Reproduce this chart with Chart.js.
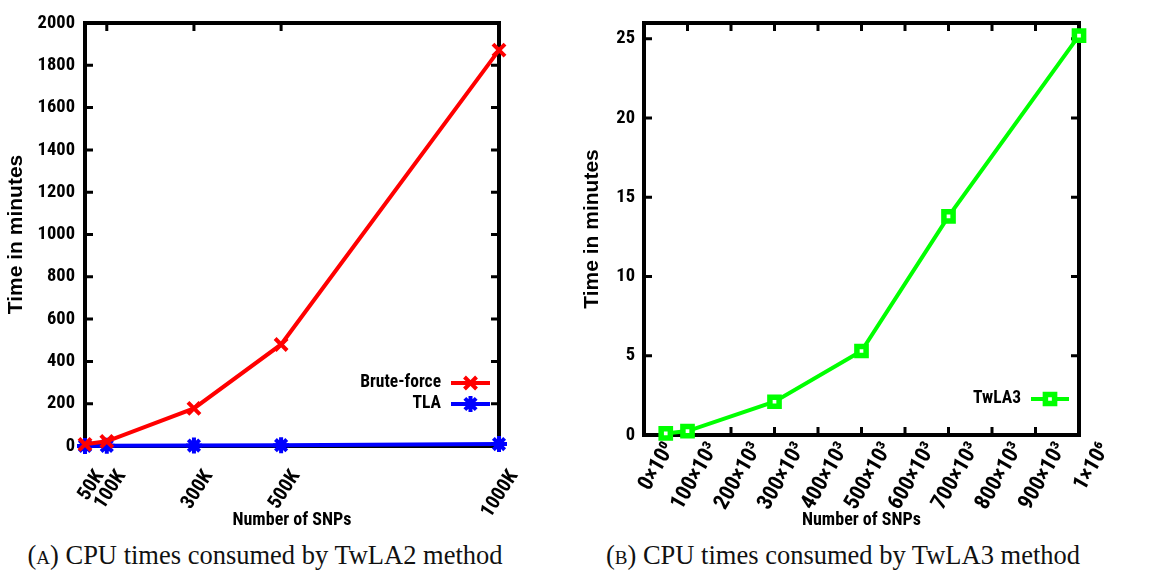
<!DOCTYPE html>
<html><head><meta charset="utf-8">
<script src="https://cdn.jsdelivr.net/npm/chart.js"></script>
<style>
html,body{margin:0;padding:0;background:#fff;width:1156px;height:572px;overflow:hidden;}
#cA{position:absolute;left:0;top:0;}
#cB{position:absolute;left:578px;top:0;}
.cap{position:absolute;top:540px;font-family:'Liberation Serif','DejaVu Serif',serif;font-size:26.5px;line-height:30px;color:#111;white-space:nowrap;transform:translateX(-50%);}
</style></head><body>
<canvas id="cA" width="578" height="535"></canvas>
<canvas id="cB" width="578" height="535"></canvas>
<div class="cap" style="left:265px">(<span style="font-variant:small-caps">a</span>) CPU times consumed by TwLA2 method</div>
<div class="cap" style="left:843px">(<span style="font-variant:small-caps">b</span>) CPU times consumed by TwLA3 method</div>
<script>
// ---- Data: chart (a) ----
const snpsA = [50000, 100000, 300000, 500000, 1000000];
const bruteForce = [8, 22, 178, 480, 1872];
const tla = [0.3, 0.6, 2, 4, 9];
const xTicksA = [50000, 100000, 300000, 500000, 1000000];
const xTickLabelsA = ['50K', '100K', '300K', '500K', '1000K'];
const yTicksA = [0, 200, 400, 600, 800, 1000, 1200, 1400, 1600, 1800, 2000];

// ---- Data: chart (b) ----
const snpsB = [50000, 100000, 300000, 500000, 700000, 1000000];
const twla3 = [0.1, 0.25, 2.1, 5.3, 13.8, 25.2];
const xTicksB = [0, 100000, 200000, 300000, 400000, 500000, 600000, 700000, 800000, 900000, 1000000];
const xTickLabelsB = ['0×10⁰', '100×10³', '200×10³', '300×10³', '400×10³', '500×10³', '600×10³', '700×10³', '800×10³', '900×10³', '1×10⁶'];
const yTicksB = [0, 5, 10, 15, 20, 25];

const NARROW = "'Roboto Condensed', 'DejaVu Sans Condensed', sans-serif";
const WIDE = "'Liberation Sans', Arial, sans-serif";

const framePlugin = {
  id: 'frame',
  beforeDatasetsDraw(chart) {
    const {ctx, chartArea: a, scales} = chart;
    const tl = 8;
    ctx.save();
    ctx.strokeStyle = '#000';
    ctx.lineWidth = 3;
    ctx.beginPath();
    scales.y.ticks.forEach(t => {
      const p = scales.y.getPixelForValue(t.value);
      ctx.moveTo(a.left, p); ctx.lineTo(a.left + tl, p);
      ctx.moveTo(a.right, p); ctx.lineTo(a.right - tl, p);
    });
    scales.x.ticks.forEach(t => {
      const p = scales.x.getPixelForValue(t.value);
      ctx.moveTo(p, a.bottom); ctx.lineTo(p, a.bottom - tl);
      ctx.moveTo(p, a.top); ctx.lineTo(p, a.top + tl);
    });
    ctx.stroke();
    ctx.lineWidth = 4;
    ctx.strokeRect(a.left, a.top, a.right - a.left, a.bottom - a.top);
    ctx.restore();
  }
};

const keyPlugin = {
  id: 'key',
  afterDatasetsDraw(chart, args, opts) {
    const {ctx, chartArea: a} = chart;
    chart.data.datasets.forEach((ds, i) => {
      const y = a.bottom - opts.rows[i];
      const x2 = a.right - opts.lineRight;
      const x1 = x2 - opts.lineLen;
      ctx.save();
      ctx.font = 'bold 17.5px ' + NARROW;
      ctx.textAlign = 'right';
      ctx.textBaseline = 'middle';
      ctx.fillStyle = '#000';
      ctx.fillText(ds.label, x1 - opts.gap, y);
      ctx.strokeStyle = ds.borderColor;
      ctx.lineWidth = ds.borderWidth;
      ctx.beginPath(); ctx.moveTo(x1, y); ctx.lineTo(x2, y); ctx.stroke();
      ctx.fillStyle = ds.pointBackgroundColor;
      ctx.strokeStyle = ds.pointBorderColor;
      ctx.lineWidth = ds.pointBorderWidth;
      if (Chart.helpers && Chart.helpers.drawPoint) {
        Chart.helpers.drawPoint(ctx, {pointStyle: ds.pointStyle, radius: ds.pointRadius, borderWidth: ds.pointBorderWidth, rotation: 0}, (x1 + x2) / 2, y);
      }
      ctx.restore();
    });
  }
};

function makeOptions(cfg) {
  return {
    responsive: false,
    animation: false,
    layout: {padding: {top: 23, right: cfg.padRight, left: 0, bottom: 0}},
    plugins: {
      legend: {display: false},
      tooltip: {enabled: false},
      key: cfg.key
    },
    scales: {
      x: {
        type: 'linear',
        min: cfg.xMin, max: cfg.xMax,
        afterBuildTicks: s => { s.ticks = cfg.xTicks.map(v => ({value: v})); },
        afterFit: s => { s.height = cfg.xHeight; },
        grid: {display: false, drawTicks: false},
        border: {display: false},
        ticks: {
          autoSkip: false,
          maxRotation: cfg.xRot, minRotation: cfg.xRot,
          padding: cfg.xPad,
          labelOffset: cfg.xLabelOffset,
          color: '#000',
          font: {family: NARROW, size: cfg.xFont, weight: 'bold'},
          callback: v => cfg.xLabels[cfg.xTicks.indexOf(v)]
        },
        title: {
          display: true, text: 'Number of SNPs', color: '#000',
          font: {family: NARROW, size: 18, weight: 'bold'},
          padding: {top: 0, bottom: 4}
        }
      },
      y: {
        min: 0, max: cfg.yMax,
        afterBuildTicks: s => { s.ticks = cfg.yTicks.map(v => ({value: v})); },
        afterFit: s => { s.width = cfg.yWidth; },
        grid: {display: false, drawTicks: false},
        border: {display: false},
        ticks: {
          padding: cfg.yPad,
          color: '#000',
          font: {family: NARROW, size: 18.5, weight: 'bold'},
          callback: v => String(v)
        },
        title: {
          display: true, text: 'Time in minutes', color: '#000',
          font: {family: WIDE, size: 21, weight: 'bold'},
          padding: {top: cfg.yTitlePad, bottom: cfg.yTitlePad}
        }
      }
    }
  };
}

new Chart(document.getElementById('cA'), {
  type: 'line',
  data: {
    datasets: [
      {
        label: 'Brute-force',
        data: snpsA.map((x, i) => ({x, y: bruteForce[i]})),
        borderColor: '#ff0000', borderWidth: 4,
        pointStyle: 'crossRot', pointRadius: 8.5, pointBorderWidth: 4,
        pointBorderColor: '#ff0000', pointBackgroundColor: '#ff0000',
        clip: false, tension: 0
      },
      {
        label: 'TLA',
        data: snpsA.map((x, i) => ({x, y: tla[i]})),
        borderColor: '#0000ff', borderWidth: 4,
        pointStyle: 'star', pointRadius: 8, pointBorderWidth: 4,
        pointBorderColor: '#0000ff', pointBackgroundColor: '#0000ff',
        clip: false, tension: 0
      }
    ]
  },
  options: makeOptions({
    padRight: 79, xHeight: 89, yWidth: 85, xMin: 50000, xMax: 1000000,
    xTicks: xTicksA, xLabels: xTickLabelsA, yTicks: yTicksA, yMax: 2000,
    xFont: 20, xRot: 57, xPad: 20, xLabelOffset: 15, yPad: 10, yTitlePad: 4,
    key: {rows: [63, 42], lineRight: 9, lineLen: 39, gap: 10}
  }),
  plugins: [framePlugin, keyPlugin]
});

new Chart(document.getElementById('cB'), {
  type: 'line',
  data: {
    datasets: [
      {
        label: 'TwLA3',
        data: snpsB.map((x, i) => ({x, y: twla3[i]})),
        borderColor: '#00ff00', borderWidth: 4,
        pointStyle: 'rect', pointRadius: 6.5, pointBorderWidth: 5.5,
        pointBorderColor: '#00ff00', pointBackgroundColor: '#ffffff',
        clip: false, tension: 0
      }
    ]
  },
  options: makeOptions({
    padRight: 77, xHeight: 100, yWidth: 66, xMin: 0, xMax: 1000000,
    xTicks: xTicksB, xLabels: xTickLabelsB, yTicks: yTicksB, yMax: 26,
    xFont: 22, xRot: 60, xPad: 3, xLabelOffset: 26, yPad: 9, yTitlePad: 2,
    key: {rows: [36], lineRight: 10, lineLen: 38, gap: 10}
  }),
  plugins: [framePlugin, keyPlugin]
});
</script>
</body></html>
